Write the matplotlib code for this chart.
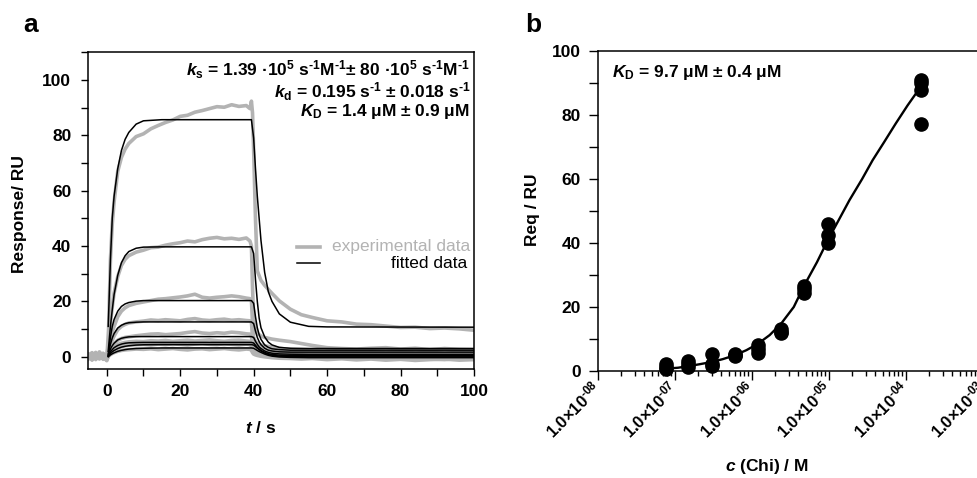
import numpy as np
import matplotlib
matplotlib.use('Agg')
import matplotlib.pyplot as plt
from matplotlib.ticker import MultipleLocator, LogLocator, NullFormatter, FuncFormatter

plt.rcParams['font.family'] = ['Liberation Sans', 'DejaVu Sans']
plt.rcParams['font.weight'] = 'bold'
plt.rcParams['axes.labelweight'] = 'bold'
plt.rcParams['mathtext.fontset'] = 'custom'
plt.rcParams['mathtext.rm'] = 'Liberation Sans:bold'
plt.rcParams['mathtext.it'] = 'Liberation Sans:bold:italic'
plt.rcParams['mathtext.bf'] = 'Liberation Sans:bold'

# ---- panel a: sensorgrams ----
gray_t = [-5, -4, -3, -2, -1, 0, 0.5, 1, 1.5, 2, 3, 4, 5, 6,
          8, 10, 12, 14, 16, 18, 20, 22, 24, 26, 28, 30, 32, 34, 36, 38,
          39, 39.4, 39.7, 40, 40.5, 41, 42, 43, 45, 47, 50, 53, 56, 60,
          64, 68, 72, 76, 80, 84, 88, 92, 96, 100]

exp_1 = [0.5, 1.5, -0.5, 1.8, 0.2, -1.2, 10, 35, 48, 56, 67, 72, 75, 77,
         79.5, 80.5, 82.3, 83.5, 84.6, 85.5, 86.8, 87.2, 88.3, 88.9, 89.6, 90.3, 90.1, 91, 90.4, 90.7,
         89.6, 92.3, 88, 75, 50, 31, 27.6, 25.8, 22.9, 20.2, 17.2, 15.2, 14.2, 13,
         12.6, 11.8, 11.6, 11.1, 10.6, 10.7, 10.2, 10.4, 10.1, 9.6]
exp_2 = [-0.5, 0.8, 1.2, -0.8, 1, 0, 5, 12, 18, 23, 29, 33, 35.2, 36.5,
         37.8, 38.5, 39.4, 39.6, 40.3, 40.8, 41.2, 41.8, 41.5, 42.3, 42.8, 43.1, 42.6, 42.8, 42.4, 42.9,
         41.8, 40, 25, 14, 10, 8.5, 7.5, 7.0, 6.4, 6.0, 5.5, 4.8, 4.1, 3.3,
         3.0, 2.8, 3.1, 3.3, 2.8, 3.1, 2.6, 3.0, 2.7, 2.6]
exp_3 = [1, -0.3, 0.6, 0.2, -0.6, 0.4, 2, 6, 9, 11, 14.5, 16.5, 17.7, 18.5,
         19.3, 19.8, 20.3, 20.8, 21, 21.3, 21.6, 22, 22.6, 21.5, 21.2, 21.5, 21.7, 22, 21.7, 21.2,
         21, 20.5, 12, 7, 5.5, 4.8, 4.3, 4.0, 3.5, 3.1, 2.6, 2.2, 2.0, 1.8,
         1.6, 1.5, 1.8, 1.4, 1.7, 1.4, 1.6, 1.3, 1.6, 1.4]
exp_4 = [0.2, 1, -1, 0.5, 1.3, -0.4, 1.5, 4, 6, 7.5, 9.8, 11, 11.7, 12.2,
         12.6, 12.9, 13.3, 13.1, 13.4, 13.2, 13, 13.5, 13.8, 13.3, 13.1, 13.4, 13.6, 13.2, 13.4, 13.1,
         13, 12.5, 7, 4.5, 3.8, 3.4, 3.0, 2.6, 2.1, 1.8, 1.4, 1.2, 1.0, 1.1,
         0.9, 1.2, 0.8, 1.0, 0.7, 1.0, 0.8, 0.6, 0.9, 0.6]
exp_5 = [-0.3, 0.4, 1.6, -0.2, 0.7, 0.1, 1, 2.8, 3.9, 4.8, 6, 6.6, 7, 7.2,
         7.6, 7.9, 8.2, 8.3, 8, 8.2, 8.4, 8.8, 9.1, 8.6, 8.4, 8.7, 8.5, 8.9, 8.7, 8.3,
         8.2, 7.5, 4, 2.8, 2.3, 2.0, 1.7, 1.5, 1.2, 1.0, 0.8, 0.6, 0.5, 0.3,
         0.6, 0.2, 0.5, 0.1, 0.3, -0.1, 0.2, 0.4, 0, 0.2]
exp_6 = [0.8, -1, 0.3, 1.1, -0.9, -0.2, 0.7, 2, 2.9, 3.6, 4.4, 4.9, 5.2, 5.4,
         5.6, 5.5, 5.8, 5.7, 5.9, 5.6, 5.8, 6.0, 5.7, 5.9, 6.1, 5.8, 5.6, 5.9, 6.0, 5.7,
         5.6, 5.2, 3, 2.2, 1.8, 1.5, 1.2, 1.0, 0.7, 0.5, 0.3, 0.1, 0, -0.2,
         0.1, -0.3, 0, -0.4, -0.1, -0.5, -0.2, -0.6, -0.3, -0.4]
exp_7 = [-0.8, 0.3, -0.4, 0.7, 0.1, -1.4, 0.4, 1.3, 2, 2.5, 3.2, 3.7, 4, 4.2,
         4.4, 4.5, 4.3, 4.6, 4.4, 4.7, 4.5, 4.3, 4.6, 4.8, 4.5, 4.4, 4.7, 4.5, 4.3, 4.6,
         4.4, 4.0, 2.5, 1.8, 1.4, 1.1, 0.8, 0.5, 0.2, 0, -0.2, -0.4, -0.3, -0.6,
         -0.4, -0.8, -0.5, -0.9, -0.6, -0.3, -0.8, -1.0, -0.6, -0.9]
exp_8 = [0.4, -1.2, 0.9, -0.5, 0.5, -0.8, 0.2, 0.8, 1.2, 1.5, 2, 2.3, 2.5, 2.6,
         2.8, 2.7, 2.9, 2.6, 2.8, 3.0, 2.7, 2.5, 2.8, 2.9, 2.6, 2.8, 3.0, 2.7, 2.5, 2.8,
         2.7, 2.4, 1.5, 1.0, 0.7, 0.5, 0.2, 0, -0.3, -0.5, -0.6, -0.8, -0.6, -1.0,
         -0.7, -1.1, -0.8, -1.2, -0.9, -1.3, -1.0, -0.8, -1.2, -1.0]
exp_data = [exp_1, exp_2, exp_3, exp_4, exp_5, exp_6, exp_7, exp_8]

fit_t = [0.4, 1, 1.5, 2, 3, 4, 5, 6, 8, 10, 15, 39.4, 40, 40.5, 41, 41.5,
         42, 43, 44, 45, 47, 50, 55, 60, 100]
fit_1 = [11, 35, 50, 58, 68, 74.5, 78.5, 81, 84, 85.2, 85.6, 85.6, 79, 68, 58, 50,
         42, 30.5, 23.5, 20, 15.5, 12.5, 11, 10.8, 10.7]
fit_2 = [2, 11, 17, 22.5, 29.5, 34, 36.5, 38, 39.2, 39.6, 39.7, 39.7, 37.3, 28, 20, 14,
         10.5, 7.2, 5.3, 4.3, 3.4, 3.1, 3.0, 3.0, 3.0]
fit_3 = [1, 7, 11, 13.5, 16.5, 18.2, 19.1, 19.6, 20.1, 20.3, 20.3, 20.3, 19.3, 14.5, 10.5, 8,
         6.3, 4.3, 3.4, 2.9, 2.6, 2.4, 2.4, 2.4, 2.4]
fit_4 = [0.6, 4.5, 6.8, 8.4, 10.4, 11.4, 12, 12.3, 12.5, 12.6, 12.6, 12.6, 12, 9.3, 7, 5.5,
         4.4, 3.1, 2.4, 2.1, 1.8, 1.7, 1.7, 1.7, 1.7]
fit_5 = [0.4, 2.8, 4, 4.9, 6.1, 6.7, 7, 7.2, 7.3, 7.3, 7.3, 7.3, 7, 5.6, 4.5, 3.6,
         3, 2.1, 1.6, 1.3, 1.05, 0.95, 0.9, 0.9, 0.9]
fit_6 = [0.3, 1.8, 2.6, 3.3, 4.1, 4.6, 4.9, 5.05, 5.15, 5.2, 5.2, 5.2, 5, 4.2, 3.4, 2.8,
         2.3, 1.6, 1.1, 0.85, 0.6, 0.45, 0.4, 0.4, 0.4]
fit_7 = [0.2, 1.2, 1.8, 2.3, 3.0, 3.5, 3.8, 4.0, 4.25, 4.35, 4.4, 4.4, 4.25, 3.7, 3.1, 2.6,
         2.1, 1.4, 0.9, 0.6, 0.25, 0.05, 0, 0, 0]
fit_8 = [0, 0.7, 1.1, 1.45, 2, 2.35, 2.6, 2.8, 3.0, 3.1, 3.2, 3.2, 3.1, 2.7, 2.3, 1.9,
         1.6, 1.0, 0.55, 0.25, -0.05, -0.2, -0.3, -0.3, -0.3]
fit_data = [fit_1, fit_2, fit_3, fit_4, fit_5, fit_6, fit_7, fit_8]

# ---- panel b: steady state ----
conc = [7.6e-8, 1.5e-7, 3.0e-7, 6.0e-7, 1.2e-6, 2.4e-6, 4.8e-6, 9.7e-6, 1.55e-4]
req = [[2.2, 1.2, 0.6], [3.2, 2.2, 1.2], [5.3, 2.2, 1.5], [5.4, 4.6, 5.0],
       [8.2, 7.0, 5.6], [13.0, 12.2, 11.8], [26.6, 25.5, 24.4], [46.0, 42.4, 40.0],
       [91.0, 90.0, 87.8, 77.2]]
curve_c = [7.6e-8, 1.1e-7, 1.5e-7, 2.1e-7, 3e-7, 4.2e-7, 6e-7, 8.5e-7, 1.2e-6, 1.7e-6,
           2.4e-6, 3.5e-6, 4.8e-6, 7e-6, 9.7e-6, 1.4e-5, 1.85e-5, 2.7e-5, 3.7e-5,
           5.2e-5, 7.4e-5, 1.05e-4, 1.5e-4]
curve_r = [0.7, 1.0, 1.5, 2.1, 2.8, 3.7, 4.9, 6.5, 8.5, 11.2,
           14.8, 20, 26.8, 34, 40.9, 48, 53.4, 60, 65.9,
           71.5, 77.4, 83, 88.3]

GRAY = '#b3b3b3'
fig = plt.figure(figsize=(9.77, 4.78), dpi=100)

# panel a
ax = fig.add_axes([0.0901, 0.228, 0.395, 0.663])
for y in exp_data:
    ax.plot(gray_t, y, color=GRAY, lw=2.6, solid_joinstyle='round', zorder=2)
for y in fit_data:
    ax.plot(fit_t, y, color='black', lw=1.1, zorder=3)
ax.set_xlim(-5.1, 100)
ax.set_ylim(-4.4, 110)
ax.xaxis.set_major_locator(MultipleLocator(20))
ax.xaxis.set_minor_locator(MultipleLocator(10))
ax.yaxis.set_major_locator(MultipleLocator(20))
ax.yaxis.set_minor_locator(MultipleLocator(10))
ax.tick_params(which='both', direction='out', length=5, width=1.0, labelsize=12.5,
               top=False, right=False)
ax.tick_params(axis='y', pad=7)
ax.tick_params(axis='x', pad=6)
for s in ax.spines.values():
    s.set_linewidth(1.1)
ax.set_xlabel('$t$ / s', fontsize=12.5)
ax.set_ylabel('Response/ RU', fontsize=12.5)
ax.xaxis.set_label_coords(0.446, -0.16)
ax.yaxis.set_label_coords(-0.158, 0.49)

ax.text(0.99, 0.943,
        r'$k_\mathrm{s}$ = 1.39 ·10$^{5}$ s$^{\text{-}1}$M$^{\text{-}1}$± 80 ·10$^{5}$ s$^{\text{-}1}$M$^{\text{-}1}$',
        transform=ax.transAxes, ha='right', va='center', fontsize=12.5)
ax.text(0.99, 0.875, r'$k_\mathrm{d}$ = 0.195 s$^{\text{-}1}$ ± 0.018 s$^{\text{-}1}$',
        transform=ax.transAxes, ha='right', va='center', fontsize=12.5)
ax.text(0.99, 0.812, r'$K_\mathrm{D}$ = 1.4 μM ± 0.9 μM',
        transform=ax.transAxes, ha='right', va='center', fontsize=12.5)

# legend drawn by hand to keep labels right-aligned
ax.plot([0.541, 0.601], [0.386, 0.386], transform=ax.transAxes, color=GRAY, lw=2.6)
ax.plot([0.541, 0.601], [0.333, 0.333], transform=ax.transAxes, color='black', lw=1.1)
ax.text(0.99, 0.386, 'experimental data', transform=ax.transAxes, ha='right', va='center',
        fontsize=12.5, fontweight='normal', color=GRAY)
ax.text(0.982, 0.333, 'fitted data', transform=ax.transAxes, ha='right', va='center',
        fontsize=12.5, fontweight='normal', color='black')

# panel b
bx = fig.add_axes([0.612, 0.224, 0.394, 0.669])
bx.set_xscale('log')
bx.plot(curve_c, curve_r, color='black', lw=1.7, zorder=3)
for c, vals in zip(conc, req):
    bx.plot([c] * len(vals), vals, 'o', color='black', ms=9.5, clip_on=False, zorder=4)
bx.set_xlim(1e-8, 1e-3)
bx.set_ylim(0, 100)
bx.spines['right'].set_visible(False)
for s in bx.spines.values():
    s.set_linewidth(1.1)
bx.yaxis.set_major_locator(MultipleLocator(20))
bx.yaxis.set_minor_locator(MultipleLocator(10))
bx.xaxis.set_major_locator(LogLocator(base=10, numticks=10))
bx.xaxis.set_minor_locator(LogLocator(base=10, subs=np.arange(2, 10), numticks=20))
bx.xaxis.set_minor_formatter(NullFormatter())


def sci_label(v, pos):
    e = int(round(np.log10(v)))
    return r'1.0×10$^{\text{-%02d}}$' % abs(e)


bx.xaxis.set_major_formatter(FuncFormatter(sci_label))
bx.tick_params(which='major', direction='out', length=6.5, width=1.0, labelsize=12.5,
               top=False, right=False)
bx.tick_params(which='minor', direction='out', length=3.5, width=1.0, top=False, right=False)
bx.tick_params(axis='y', which='minor', length=6.5)
bx.tick_params(axis='y', pad=6)
for lab in bx.get_xticklabels():
    lab.set_rotation(45)
    lab.set_ha('right')
    lab.set_va('center')
    lab.set_rotation_mode('anchor')
    lab.set_fontsize(12)
bx.set_ylabel('Req / RU', fontsize=12.5)
bx.set_xlabel('$c$ (Chi) / M', fontsize=12.5)
bx.yaxis.set_label_coords(-0.15, 0.503)
bx.xaxis.set_label_coords(0.439, -0.27)
bx.text(0.036, 0.934, r'$K_\mathrm{D}$ = 9.7 μM ± 0.4 μM', transform=bx.transAxes,
        ha='left', va='center', fontsize=12.5)

fig.text(0.031, 0.948, 'a', fontsize=19, fontweight='bold', ha='center', va='center')
fig.text(0.5455, 0.948, 'b', fontsize=19, fontweight='bold', ha='center', va='center')

fig.savefig('out.png', dpi=100)
